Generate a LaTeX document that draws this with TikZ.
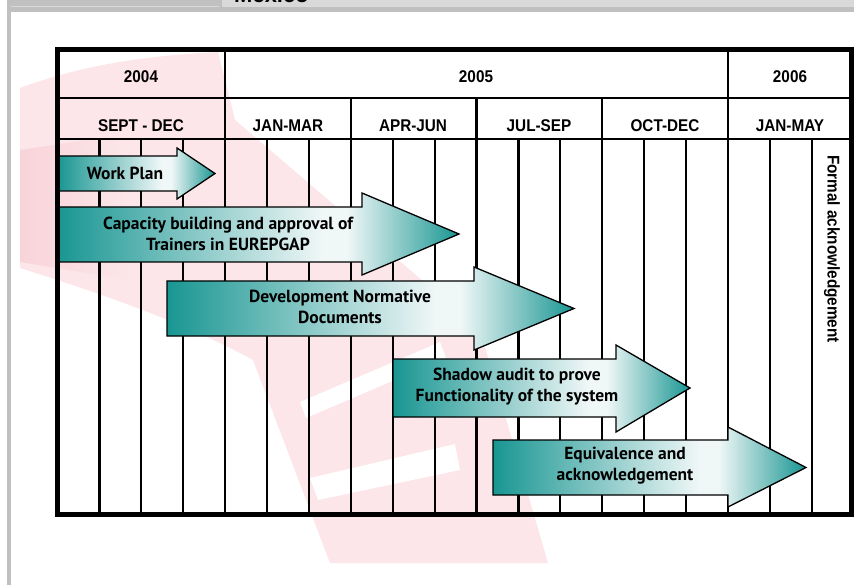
\documentclass[tikz,border=0pt]{standalone}
\usepackage{fontspec}
\setmainfont{Liberation Sans}
\newfontfamily\headfont[FakeStretch=0.9]{Liberation Sans}
\newfontfamily\barfont{PT Sans}
\usetikzlibrary{positioning}

\definecolor{bandgray}{RGB}{192,192,192}
\definecolor{tabgray}{RGB}{217,217,217}
\definecolor{markpink}{RGB}{252,230,233}
\definecolor{markred}{RGB}{248,212,217}
\definecolor{barteal}{RGB}{25,150,146}
\definecolor{barpale}{RGB}{240,247,247}

\pgfdeclarehorizontalshading{tealbar}{100bp}{color(0bp)=(barteal); color(25bp)=(barteal); color(58bp)=(barpale); color(61bp)=(barpale); color(75bp)=(barteal); color(100bp)=(barteal)}

\begin{document}
\begin{tikzpicture}[x=1pt,y=-1pt,
    bar/.style={draw=black,line width=1.3pt,shade,shading=tealbar},
    bartext/.style={font=\barfont\bfseries\fontsize{17.5}{21}\selectfont,align=center,inner sep=0pt},
    head/.style={font=\headfont\bfseries\fontsize{17}{20}\selectfont,anchor=base,inner sep=0pt},
    rule/.style={line width=2.2pt},
    frame/.style={line width=5pt}]

\useasboundingbox (0,0) rectangle (854,585);
\fill[white] (0,0) rectangle (854,585);

% page header
\fill[bandgray] (7,0) rectangle (854,12);
\fill[tabgray] (222,0) rectangle (854,7.5);
\draw[tabgray,line width=.6pt] (11,6.7) -- (219,6.7);
\fill[bandgray] (7,12) rectangle (11,585);
\node[anchor=base west,font=\bfseries\fontsize{22}{22}\selectfont,inner sep=0pt] (mexico) at (234,2.5) {México};

% watermark
\fill[markpink] (20,88) .. controls (90,62) and (160,55) .. (218,52) -- (235,120)
  -- (480,330) -- (548,563) -- (330,563) -- (253,360)
  .. controls (180,320) and (90,290) .. (20,268) -- cycle;
\shade[left color=markred,right color=markpink] (20,150) -- (120,135) -- (130,280) -- (20,262) -- cycle;
\fill[white] (300,402) -- (440,342) -- (446,358) -- (306,418) -- cycle;
\fill[white] (310,478) -- (455,444) -- (460,470) -- (318,500) -- cycle;

% table grid
\foreach \i in {1,...,18}
  \draw[rule] (57.5+41.9*\i,139) -- (57.5+41.9*\i,514);
\foreach \x in {350.8,476.5,602.2}
  \draw[rule] (\x,98) -- (\x,139);
\foreach \x in {225.1,727.9}
  \draw[rule] (\x,50) -- (\x,139);
\draw[rule] (57.5,98) -- (851,98);
\draw[rule] (57.5,139) -- (851,139);

% headings
\node[head] (y2004) at (141,83) {2004};
\node[head] (y2005) at (476,83) {2005};
\node[head] (y2006) at (790,83) {2006};
\node[head] (q1) at (141,131.5) {SEPT - DEC};
\node[head] (q2) at (288,131.5) {JAN-MAR};
\node[head] (q3) at (413,131.5) {APR-JUN};
\node[head] (q4) at (539,131.5) {JUL-SEP};
\node[head] (q5) at (665,131.5) {OCT-DEC};
\node[head] (q6) at (790,131.5) {JAN-MAY};
\node[head,anchor=center,rotate=-90] (formal) at (832,249) {Formal acknowledgement};

% activities
\draw[bar] (58,156) -- (177,156) -- (177,148) -- (215,173.5) -- (177,199) -- (177,191) -- (58,191) -- cycle;
\draw[bar] (58,207) -- (362,207) -- (362,193) -- (459,234) -- (362,275) -- (362,262) -- (58,262) -- cycle;
\draw[bar] (167,281) -- (474,281) -- (474,267) -- (574,308.5) -- (474,350) -- (474,336) -- (167,336) -- cycle;
\draw[bar] (393,359) -- (616,359) -- (616,345) -- (690,388) -- (616,432) -- (616,417) -- (393,417) -- cycle;
\draw[bar] (493,440) -- (728,440) -- (728,427) -- (806,467.5) -- (728,507) -- (728,495) -- (493,495) -- cycle;

\node[bartext] (workplan) at (125,173) {Work Plan};
\node[bartext] (capacity) at (228,234) {Capacity building and approval of\\Trainers in EUREPGAP};
\node[bartext] (normative) at (340,307) {Development Normative\\Documents};
\node[bartext] (shadow) at (517,387) {Shadow audit to prove\\Functionality of the system};
\node[bartext] (equiv) at (625,466) {Equivalence and\\acknowledgement};

\draw[frame] (57.5,50) rectangle (851,514);
\end{tikzpicture}
\end{document}
